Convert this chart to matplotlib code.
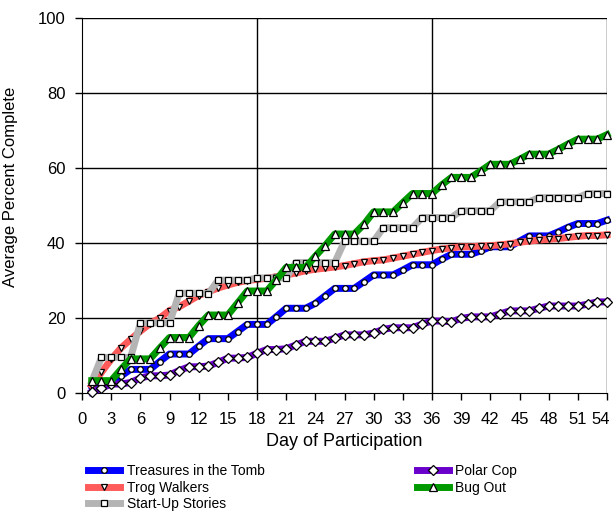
import matplotlib.pyplot as plt
from matplotlib.ticker import MultipleLocator
from matplotlib.transforms import ScaledTranslation

plt.rcParams['font.family'] = ['Liberation Sans', 'DejaVu Sans']

days = list(range(1, 55))

treasures = [1.5, 2.5, 3.0, 4.5, 6.3, 6.3, 6.3, 8.4, 10.4, 10.4, 10.4, 12.5, 14.5, 14.5, 14.5,
             16.4, 18.3, 18.3, 18.3, 20.4, 22.6, 22.6, 22.6, 23.9, 25.9, 27.9, 27.9, 27.9, 29.7,
             31.5, 31.5, 31.5, 32.8, 34.2, 34.2, 34.2, 35.7, 37.0, 37.0, 37.0, 37.9, 39.0, 39.0,
             39.0, 40.5, 41.9, 41.9, 41.9, 43.0, 44.2, 45.2, 45.2, 45.2, 46.1]
trog = [2.0, 5.5, 9.0, 12.0, 14.3, 16.5, 18.5, 20.0, 22.0, 23.0, 24.5, 26.0, 27.0, 28.0, 28.8,
        29.5, 30.0, 30.3, 30.6, 31.0, 31.5, 32.0, 32.6, 33.0, 33.3, 33.6, 34.0, 34.5, 35.0,
        35.3, 35.5, 36.0, 36.5, 37.0, 37.5, 38.0, 38.4, 38.7, 39.0, 39.0, 39.2, 39.3, 39.5,
        39.8, 40.2, 40.5, 40.8, 41.0, 41.2, 41.5, 41.8, 42.0, 42.0, 42.2]
startup = [3.0, 9.5, 9.5, 9.5, 9.5, 18.7, 18.7, 18.7, 18.7, 26.6, 26.6, 26.6, 26.5, 30.1, 30.1,
           30.1, 30.1, 30.7, 30.7, 30.7, 30.7, 34.8, 34.8, 34.8, 34.8, 34.8, 40.5, 40.5, 40.5,
           40.5, 44.1, 44.1, 44.1, 44.1, 46.8, 46.8, 46.8, 46.8, 48.6, 48.6, 48.6, 48.6, 51.0,
           51.0, 51.0, 51.0, 52.1, 52.1, 52.1, 52.1, 52.1, 53.2, 53.2, 53.2]
polar = [0.2, 1.3, 2.4, 2.4, 2.8, 4.0, 4.6, 4.6, 4.8, 6.0, 7.0, 7.0, 7.2, 8.2, 9.3, 9.3, 9.5,
         10.6, 11.6, 11.6, 11.8, 12.8, 13.8, 13.8, 13.8, 14.6, 15.5, 15.5, 15.5, 16.0, 17.0,
         17.4, 17.4, 17.4, 18.4, 19.2, 19.2, 19.0, 19.9, 20.3, 20.3, 20.3, 21.1, 21.9, 21.9,
         21.9, 22.6, 23.2, 23.2, 23.2, 23.2, 23.7, 24.3, 24.3]
bugout = [3.3, 3.3, 3.3, 6.3, 9.1, 9.1, 9.1, 12.0, 14.8, 14.8, 14.8, 18.0, 20.8, 20.8, 20.8,
          24.0, 27.2, 27.2, 27.2, 30.2, 33.5, 33.5, 33.5, 36.5, 39.3, 42.4, 42.4, 42.4, 45.0,
          48.3, 48.3, 48.3, 50.8, 53.2, 53.2, 53.2, 55.5, 57.5, 57.5, 57.5, 59.2, 61.0, 61.0,
          61.0, 62.3, 63.7, 63.7, 63.7, 65.0, 66.4, 67.7, 67.7, 67.7, 68.9]

series = [
    ('Treasures in the Tomb', treasures, '#0000FF', 'o', 4),
    ('Trog Walkers', trog, '#FF5B5B', 'v', 5),
    ('Start-Up Stories', startup, '#B4B4B4', 's', 5),
    ('Polar Cop', polar, '#6A00CC', 'D', 5),
    ('Bug Out', bugout, '#009A00', '^', 6),
]

fig = plt.figure(figsize=(6.14, 5.12), dpi=100)
ax = fig.add_axes([0.1336, 0.2324, 0.855, 0.7324])

for name, vals, col, mk, ms in series:
    ax.plot(days, vals, color=col, lw=5, marker=mk, markersize=ms,
            markerfacecolor='white', markeredgecolor='black', markeredgewidth=0.9,
            label=name, clip_on=False, zorder=3)

ax.set_xlim(0, 54)
ax.set_ylim(0, 100)
ax.set_xticks(range(0, 55, 3))
ax.yaxis.set_major_locator(MultipleLocator(20))
ax.tick_params(direction='out', length=5, width=1, labelsize=12)
ax.tick_params(axis='x', pad=9)
ax.tick_params(axis='y', pad=7)

for y in [20, 40, 60, 80, 100]:
    ax.axhline(y, color='black', lw=1, zorder=1)
for x in [18, 36, 54]:
    ax.axvline(x, color='black', lw=1, zorder=1)

ax.spines['top'].set_visible(False)
ax.spines['right'].set_visible(False)

# keep the last x label inside the figure
last = ax.xaxis.get_major_ticks()[-1].label1
last.set_transform(last.get_transform() + ScaledTranslation(-6 / 100, 0, fig.dpi_scale_trans))

ax.set_xlabel('Day of Participation', fontsize=13, labelpad=4)
ax.set_ylabel('Average Percent Complete', fontsize=12)
ax.yaxis.set_label_coords(-0.122, 0.55)

ax.legend(loc='upper left', bbox_to_anchor=(0.135, 0.105), bbox_transform=fig.transFigure,
          ncol=2, frameon=False, fontsize=10, handlelength=2.3, columnspacing=10.9,
          labelspacing=0.2, handletextpad=0.5, borderaxespad=0)

fig.savefig('out.png', dpi=100)
